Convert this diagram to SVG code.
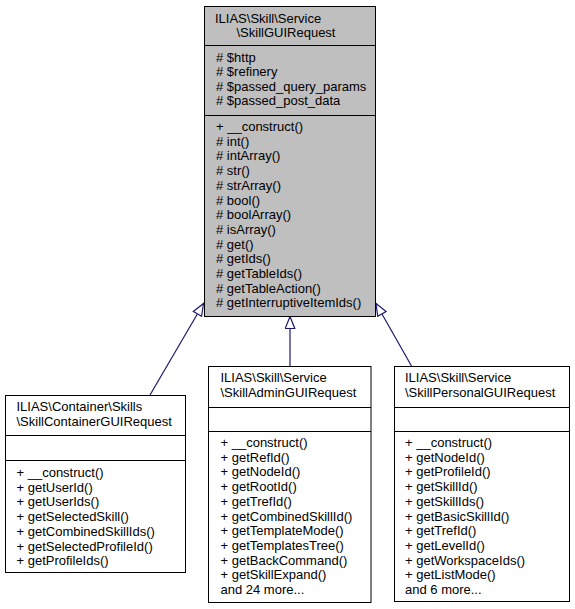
<svg xmlns="http://www.w3.org/2000/svg" width="575" height="609" viewBox="0 0 575 609">
<style>
  .box { fill: #ffffff; stroke: #000000; stroke-width: 1; }
  .base { fill: #bfbfbf; stroke: #000000; stroke-width: 1; }
  .div { stroke: #000000; stroke-width: 1; fill: none; }
  text { font-family: "Liberation Sans", Arial, Helvetica, sans-serif; font-size: 13px; fill: #000000; }
  .mid { text-anchor: middle; }
  .edge { stroke: #191970; stroke-width: 1.2; fill: none; }
</style>
<defs>
  <marker id="inherit" markerUnits="userSpaceOnUse" viewBox="0 0 14 11" markerWidth="14" markerHeight="11" refX="13" refY="5.5" orient="auto">
    <path d="M1,0.7 L13,5.5 L1,10.3 Z" fill="#ffffff" stroke="#191970" stroke-width="1.2"/>
  </marker>
</defs>
<rect width="575" height="609" fill="#ffffff"/>

<g id="connectors">
  <path class="edge" d="M150,395 L203.5,303.5" marker-end="url(#inherit)"/>
  <path class="edge" d="M290,366 L290,316.5" marker-end="url(#inherit)"/>
  <path class="edge" d="M411.5,366 L376,303.5" marker-end="url(#inherit)"/>
</g>

<g id="SkillGUIRequest">
  <rect class="base" x="204.5" y="6.5" width="171" height="310"/>
  <line class="div" x1="204.5" y1="45.5" x2="375.5" y2="45.5"/>
  <line class="div" x1="204.5" y1="115.5" x2="375.5" y2="115.5"/>
  <text x="215" y="22.5">ILIAS\Skill\Service</text>
  <text x="286" y="37" class="mid">\SkillGUIRequest</text>
  <text x="216" y="61.5"># $http</text>
  <text x="216" y="76"># $refinery</text>
  <text x="216" y="90.5"># $passed_query_params</text>
  <text x="216" y="105"># $passed_post_data</text>
  <text x="216" y="131">+ __construct()</text>
  <text x="216" y="145.7"># int()</text>
  <text x="216" y="160.4"># intArray()</text>
  <text x="216" y="175.1"># str()</text>
  <text x="216" y="189.8"># strArray()</text>
  <text x="216" y="204.5"># bool()</text>
  <text x="216" y="219.2"># boolArray()</text>
  <text x="216" y="233.9"># isArray()</text>
  <text x="216" y="248.6"># get()</text>
  <text x="216" y="263.3"># getIds()</text>
  <text x="216" y="278"># getTableIds()</text>
  <text x="216" y="292.7"># getTableAction()</text>
  <text x="216" y="307.4"># getInterruptiveItemIds()</text>
</g>

<g id="SkillContainerGUIRequest">
  <rect class="box" x="5.5" y="395.5" width="180" height="177"/>
  <line class="div" x1="5.5" y1="435.5" x2="185.5" y2="435.5"/>
  <line class="div" x1="5.5" y1="460.5" x2="185.5" y2="460.5"/>
  <text x="16.5" y="411">ILIAS\Container\Skills</text>
  <text x="16.5" y="426">\SkillContainerGUIRequest</text>
  <text x="16.5" y="477">+ __construct()</text>
  <text x="16.5" y="491.7">+ getUserId()</text>
  <text x="16.5" y="506.4">+ getUserIds()</text>
  <text x="16.5" y="521.1">+ getSelectedSkill()</text>
  <text x="16.5" y="535.8">+ getCombinedSkillIds()</text>
  <text x="16.5" y="550.5">+ getSelectedProfileId()</text>
  <text x="16.5" y="565.2">+ getProfileIds()</text>
</g>

<g id="SkillAdminGUIRequest">
  <rect class="box" x="208.5" y="366.5" width="162.5" height="236"/>
  <line class="div" x1="208.5" y1="407.5" x2="371" y2="407.5"/>
  <line class="div" x1="208.5" y1="431.5" x2="371" y2="431.5"/>
  <text x="220.5" y="381.5">ILIAS\Skill\Service</text>
  <text x="220.5" y="396.5">\SkillAdminGUIRequest</text>
  <text x="220.5" y="447">+ __construct()</text>
  <text x="220.5" y="461.7">+ getRefId()</text>
  <text x="220.5" y="476.4">+ getNodeId()</text>
  <text x="220.5" y="491.1">+ getRootId()</text>
  <text x="220.5" y="505.8">+ getTrefId()</text>
  <text x="220.5" y="520.5">+ getCombinedSkillId()</text>
  <text x="220.5" y="535.2">+ getTemplateMode()</text>
  <text x="220.5" y="549.9">+ getTemplatesTree()</text>
  <text x="220.5" y="564.6">+ getBackCommand()</text>
  <text x="220.5" y="579.3">+ getSkillExpand()</text>
  <text x="220.5" y="594">and 24 more...</text>
</g>

<g id="SkillPersonalGUIRequest">
  <rect class="box" x="394.5" y="366.5" width="175" height="235"/>
  <line class="div" x1="394.5" y1="407.5" x2="569.5" y2="407.5"/>
  <line class="div" x1="394.5" y1="431.5" x2="569.5" y2="431.5"/>
  <text x="405" y="381.5">ILIAS\Skill\Service</text>
  <text x="405" y="396.5">\SkillPersonalGUIRequest</text>
  <text x="405" y="447">+ __construct()</text>
  <text x="405" y="461.7">+ getNodeId()</text>
  <text x="405" y="476.4">+ getProfileId()</text>
  <text x="405" y="491.1">+ getSkillId()</text>
  <text x="405" y="505.8">+ getSkillIds()</text>
  <text x="405" y="520.5">+ getBasicSkillId()</text>
  <text x="405" y="535.2">+ getTrefId()</text>
  <text x="405" y="549.9">+ getLevelId()</text>
  <text x="405" y="564.6">+ getWorkspaceIds()</text>
  <text x="405" y="579.3">+ getListMode()</text>
  <text x="405" y="594">and 6 more...</text>
</g>
</svg>
